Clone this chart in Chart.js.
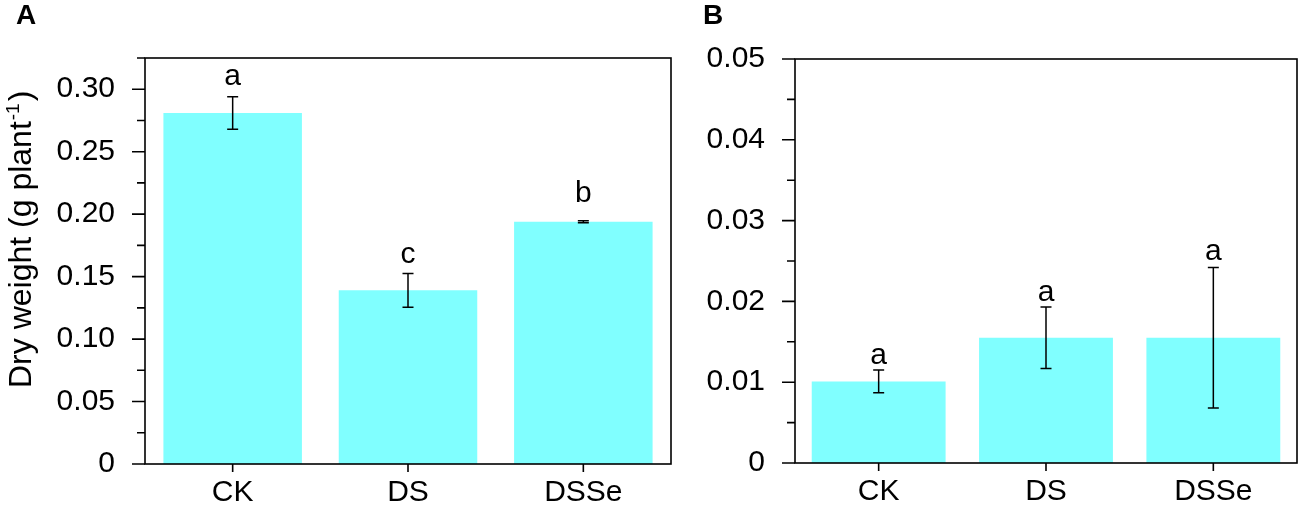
<!DOCTYPE html>
<html>
<head>
<meta charset="utf-8">
<script src="https://cdn.jsdelivr.net/npm/chart.js@4"></script>
<style>
  html, body { margin: 0; padding: 0; background: #fff; }
  body { width: 1299px; height: 506px; position: relative; overflow: hidden; }
  canvas { position: absolute; top: 0; }
</style>
</head>
<body>
<canvas id="chartA" width="680" height="506" style="left:0px"></canvas>
<canvas id="chartB" width="619" height="506" style="left:680px"></canvas>
<script>
// ---- data ----
const categories = ['CK', 'DS', 'DSSe'];
const weightA = [0.281, 0.139, 0.194];
const errorA = [0.013, 0.0135, 0.0008];
const lettersA = ['a', 'c', 'b'];
const weightB = [0.0101, 0.0155, 0.0155];
const errorB = [0.0014, 0.0038, 0.0087];
const lettersB = ['a', 'a', 'a'];
const tickLabelsA = ['0', '0.05', '0.10', '0.15', '0.20', '0.25', '0.30'];
const tickLabelsB = ['0', '0.01', '0.02', '0.03', '0.04', '0.05'];
const yTitle = 'Dry weight (g plant';
const yTitleSup = '-1';
const yTitleEnd = ')';

const FONT = "'Liberation Sans', Arial, sans-serif";
const BAR_COLOR = '#80FFFF';

const panelPlugin = {
  id: 'panel',
  afterDatasetsDraw(chart, args, o) {
    const ctx = chart.ctx;
    const meta = chart.getDatasetMeta(0);
    const ys = chart.scales.y;
    const data = chart.data.datasets[0].data;
    ctx.save();
    ctx.strokeStyle = '#000';
    ctx.lineWidth = 1.5;
    ctx.fillStyle = '#000';
    ctx.font = '30px ' + FONT;
    ctx.textAlign = 'center';
    ctx.textBaseline = 'alphabetic';
    meta.data.forEach((bar, i) => {
      const x = bar.x;
      const top = ys.getPixelForValue(data[i] + o.err[i]);
      const bot = ys.getPixelForValue(data[i] - o.err[i]);
      ctx.beginPath();
      ctx.moveTo(x, top); ctx.lineTo(x, bot);
      ctx.moveTo(x - 5.5, top); ctx.lineTo(x + 5.5, top);
      ctx.moveTo(x - 5.5, bot); ctx.lineTo(x + 5.5, bot);
      ctx.stroke();
      ctx.fillText(o.letters[i], x, top - o.gaps[i]);
    });
    ctx.restore();
  },
  afterDraw(chart, args, o) {
    const ctx = chart.ctx;
    const a = chart.chartArea;
    const ys = chart.scales.y;
    const xs = chart.scales.x;
    ctx.save();
    ctx.strokeStyle = '#000';
    ctx.lineWidth = 1.6;
    ctx.strokeRect(a.left, a.top, a.right - a.left, a.bottom - a.top);
    // y ticks
    ctx.beginPath();
    ys.ticks.forEach((t) => {
      const y = ys.getPixelForValue(t.value);
      const major = t.label !== '';
      ctx.moveTo(a.left - (major ? 13 : 8), y);
      ctx.lineTo(a.left, y);
    });
    // x ticks
    xs.ticks.forEach((t, i) => {
      const x = xs.getPixelForTick(i);
      ctx.moveTo(x, a.bottom);
      ctx.lineTo(x, a.bottom + 8);
    });
    ctx.stroke();
    // panel label
    ctx.fillStyle = '#000';
    ctx.font = 'bold 28px ' + FONT;
    ctx.textAlign = 'left';
    ctx.textBaseline = 'alphabetic';
    ctx.fillText(o.label, o.labelX, 24);
    // y title
    if (o.title) {
      ctx.translate(31, 388);
      ctx.rotate(-Math.PI / 2);
      ctx.font = '32px ' + FONT;
      const w1 = ctx.measureText(yTitle).width;
      ctx.fillText(yTitle, 0, 0);
      ctx.font = '19px ' + FONT;
      const w2 = ctx.measureText(yTitleSup).width;
      ctx.fillText(yTitleSup, w1 + 1, -12);
      ctx.font = '32px ' + FONT;
      ctx.fillText(yTitleEnd, w1 + w2 + 3, 0);
    }
    ctx.restore();
  }
};

function makeChart(id, values, opts) {
  return new Chart(document.getElementById(id), {
    type: 'bar',
    data: {
      labels: categories,
      datasets: [{
        data: values,
        backgroundColor: BAR_COLOR,
        borderWidth: 0,
        barPercentage: opts.barPct,
        categoryPercentage: 1
      }]
    },
    options: {
      responsive: false,
      animation: false,
      events: [],
      layout: { padding: { top: opts.top, right: opts.right, left: 0, bottom: 0 } },
      plugins: {
        legend: { display: false },
        tooltip: { enabled: false },
        panel: opts.panel
      },
      scales: {
        x: {
          grid: { display: false },
          border: { display: false },
          ticks: { color: '#000', font: { family: FONT, size: 30 }, padding: 3, maxRotation: 0 },
          afterFit(s) { s.height = opts.xHeight; }
        },
        y: {
          min: 0,
          max: opts.max,
          grid: { display: false },
          border: { display: false },
          ticks: {
            stepSize: opts.step,
            autoSkip: false,
            color: '#000',
            padding: 22,
            font: { family: FONT, size: 30 },
            callback: (v) => {
              const k = Math.round(v / opts.major * 1000) / 1000;
              return Number.isInteger(k) ? opts.tickLabels[k] : '';
            }
          },
          afterFit(s) { s.width = opts.yWidth; }
        }
      }
    },
    plugins: [panelPlugin]
  });
}

makeChart('chartA', weightA, {
  barPct: 0.79, top: 58, right: 9, xHeight: 42, yWidth: 145,
  max: 0.325, step: 0.025, major: 0.05, tickLabels: tickLabelsA,
  panel: { err: errorA, letters: lettersA, gaps: [12, 10, 19], label: 'A', labelX: 16, title: true }
});
makeChart('chartB', weightB, {
  barPct: 0.8, top: 59, right: 2, xHeight: 43, yWidth: 115,
  max: 0.05, step: 0.005, major: 0.01, tickLabels: tickLabelsB,
  panel: { err: errorB, letters: lettersB, gaps: [6, 6, 7], label: 'B', labelX: 23, title: false }
});
</script>
</body>
</html>
